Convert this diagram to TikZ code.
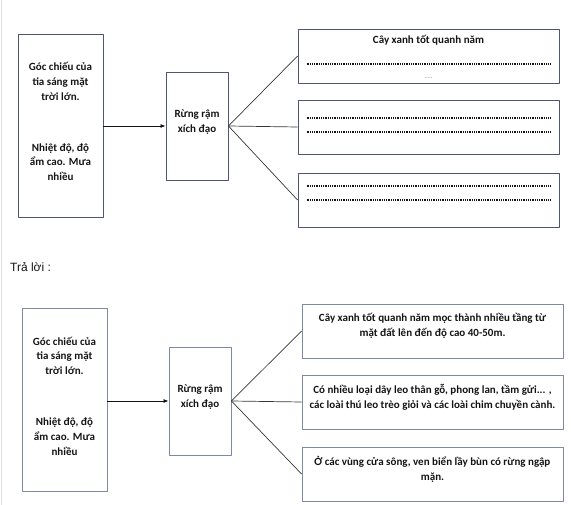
\documentclass[tikz,border=0pt]{standalone}
\usepackage{fontspec}
\setmainfont{Carlito}
\newfontfamily\plainfont{Liberation Sans}
\usetikzlibrary{arrows.meta}
\definecolor{ink}{HTML}{141414}
\definecolor{frametop}{HTML}{4E5576}
\definecolor{framelow}{HTML}{7F89A2}
\definecolor{rim}{HTML}{E2E2E2}
\newcommand{\boxfont}{\fontsize{11}{14.8}\selectfont\bfseries}
\tikzset{
  every picture/.style = {line join=round},
  frame/.style         = {draw, line width=0.9pt, inner sep=0pt},
  tallbox/.style       = {frame, minimum width=85, minimum height=183},
  midbox/.style        = {frame, minimum width=62, minimum height=108},
  widebox/.style       = {frame, minimum width=261, minimum height=54},
  lbl/.style           = {font=\boxfont, text=ink, align=center, inner sep=0pt},
  feed/.style          = {line width=0.8pt, ink, -{Latex[length=5pt, width=4pt]}},
  spoke/.style         = {line width=0.7pt, ink!85},
  dots/.style          = {line width=1.1pt, ink, dash pattern=on 1pt off 0.8pt},
}

\begin{document}
\begin{tikzpicture}[x=1pt, y=-1pt]
  \useasboundingbox (0,0) rectangle (571,505);
  \draw[rim, line width=1pt] (1.5,0) -- (1.5,505);

  % ---- the exercise: blank boxes to fill in
  \begin{scope}[frametop]
    \node[tallbox] (lt)  at (60.5,125.5) {};
    \node[midbox]  (mt)  at (197,126) {};
    \node[widebox] (r1t) at (428.5,56) {};
    \node[widebox] (r2t) at (428.5,127) {};
    \node[widebox] (r3t) at (428.5,200) {};
  \end{scope}

  \node[lbl] (ltxt) at ([yshift=4pt]lt.center)
    {Góc chiếu của\\tia sáng mặt\\trời lớn.\\[36pt]Nhiệt độ, độ\\ẩm cao. Mưa\\nhiều};
  \node[lbl] (mtxt) at ([yshift=4pt]mt.center) {Rừng rậm\\xích đạo};
  \node[lbl] (r1ttl) at ([yshift=16pt]r1t.center) {Cây xanh tốt quanh năm};
  \node[font=\fontsize{6}{7}\selectfont, text=ink!60] (r1more) at ([yshift=-22pt]r1t.center) {.....};

  \draw[dots] ([xshift=9pt, yshift=-8pt]r1t.west) -- ([xshift=-9pt, yshift=-8pt]r1t.east);
  \draw[dots] ([xshift=9pt, yshift=9pt]r2t.west)  -- ([xshift=-9pt, yshift=9pt]r2t.east);
  \draw[dots] ([xshift=9pt, yshift=-5pt]r2t.west) -- ([xshift=-9pt, yshift=-5pt]r2t.east);
  \draw[dots] ([xshift=9pt, yshift=14pt]r3t.west) -- ([xshift=-9pt, yshift=14pt]r3t.east);
  \draw[dots] ([xshift=9pt]r3t.west) -- ([xshift=-9pt]r3t.east);

  \draw[feed] (lt.east |- mt.west) -- (mt.west);
  \foreach \r in {r1t, r2t, r3t}
    \draw[spoke] (mt.east) -- (\r.west);

  \node[font=\plainfont\fontsize{12}{14}\selectfont, text=ink, anchor=west, inner sep=0pt] (ans) at (10,267) {Trả lời :};

  % ---- the answer
  \begin{scope}[framelow]
    \node[tallbox] (lb)  at (64.5,400) {};
    \node[midbox]  (mb)  at (200,401) {};
    \node[widebox] (r1b) at (432.5,331) {};
    \node[widebox] (r2b) at (432.5,402) {};
    \node[widebox] (r3b) at (432.5,474) {};
  \end{scope}

  \node[lbl] (lbtxt) at ([yshift=4pt]lb.center)
    {Góc chiếu của\\tia sáng mặt\\trời lớn.\\[36pt]Nhiệt độ, độ\\ẩm cao. Mưa\\nhiều};
  \node[lbl] (mbtxt) at ([yshift=4pt]mb.center) {Rừng rậm\\xích đạo};
  \node[lbl] (r1txt) at ([yshift=5pt]r1b.center)
    {Cây xanh tốt quanh năm mọc thành nhiều tầng từ\\mặt đất lên đến độ cao 40-50m.};
  \node[lbl] (r2txt) at ([yshift=5pt]r2b.center)
    {Có nhiều loại dây leo thân gỗ, phong lan, tầm gửi... ,\\các loài thú leo trèo giỏi và các loài chim chuyền cành.};
  \node[lbl] (r3txt) at ([yshift=5pt]r3b.center)
    {Ở các vùng cửa sông, ven biển lầy bùn có rừng ngập\\mặn.};

  \draw[feed] (lb.east |- mb.west) -- (mb.west);
  \foreach \r in {r1b, r2b, r3b}
    \draw[spoke] (mb.east) -- (\r.west);
\end{tikzpicture}
\end{document}
